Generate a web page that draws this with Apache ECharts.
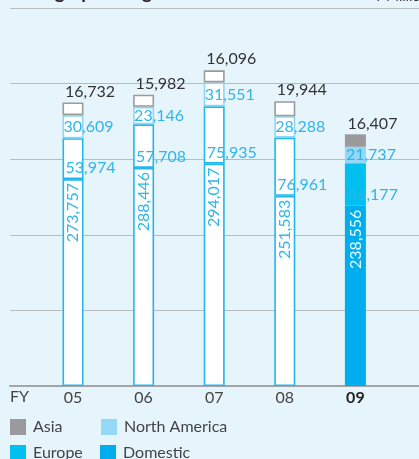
<!DOCTYPE html>
<html>
<head>
<meta charset="utf-8">
<script src="https://cdn.jsdelivr.net/npm/echarts@6/dist/echarts.min.js"></script>
<style>
  html, body { margin: 0; padding: 0; background: #e6f4fc; }
  #chart { width: 419px; height: 459px; }
</style>
</head>
<body>
<div id="chart"></div>
<script>
const years = ["05", "06", "07", "08", "09"];
const domestic = [273757, 288446, 294017, 251583, 238556];
const europe = [53974, 57708, 75935, 76961, 56177];
const northAmerica = [30609, 23146, 31551, 28288, 21737];
const asia = [16732, 15982, 16096, 19944, 16407];
const yTicks = [0, 100000, 200000, 300000, 400000, 500000];

const FONT = "Lato";
const BLUE_TEXT = "#2fb6ea";

// fill colours (used for FY09 and the legend), outline colours for earlier years
const fills = { asia: "#9a9a9c", na: "#93d8f6", europe: "#00c0f0", domestic: "#00aeef" };
const borders = { asia: "#9b9b9b", na: "#8fd6f3", europe: "#1fb9ed", domestic: "#27b5ec" };

function items(values, key, labelColorLast) {
  return values.map((v, i) => {
    if (i === values.length - 1) {
      return { value: v, label: labelColorLast ? { color: labelColorLast } : undefined };
    }
    return {
      value: v,
      itemStyle: { color: "#ffffff", borderColor: borders[key], borderWidth: 1.6 }
    };
  });
}

const fmt = (p) => p.value.toLocaleString("en-US");

const chart = echarts.init(document.getElementById("chart"));

const option = {
  backgroundColor: "#e6f4fc",
  animation: false,
  textStyle: { fontFamily: FONT },
  grid: [
    { left: 10, right: 0, top: 8, bottom: 73 },
    { left: 37.7, right: 28.3, top: 8, bottom: 73 }
  ],
  xAxis: [
    {
      gridIndex: 0, type: "value", min: 0, max: 1,
      axisLine: { show: true, lineStyle: { color: "#a3a5a8", width: 2 } },
      axisTick: { show: false }, axisLabel: { show: false }, splitLine: { show: false }
    },
    {
      gridIndex: 1, type: "category", data: years,
      axisLine: { show: false }, axisTick: { show: false },
      axisLabel: {
        margin: 4, fontSize: 16, fontFamily: FONT, color: "#444",
        formatter: (v) => (v === "09" ? "{b|" + v + "}" : v),
        rich: { b: { fontSize: 16, fontWeight: "bold", color: "#222", fontFamily: FONT } }
      }
    }
  ],
  yAxis: [
    {
      gridIndex: 0, type: "value", min: yTicks[0], max: yTicks[yTicks.length - 1], interval: 100000,
      axisLine: { show: false }, axisTick: { show: false }, axisLabel: { show: false },
      splitLine: { lineStyle: { color: "#b8bbbe", width: 1 } }
    },
    {
      gridIndex: 1, type: "value", min: yTicks[0], max: yTicks[yTicks.length - 1], show: false
    }
  ],
  legend: [
    { data: ["Asia"], left: 10, top: 419 },
    { data: ["North America"], left: 101, top: 419 },
    { data: ["Europe"], left: 10, top: 445 },
    { data: ["Domestic"], left: 100, top: 445 }
  ].map((l) => Object.assign({
    padding: 0, itemWidth: 16, itemHeight: 16, icon: "rect", selectedMode: false,
    textStyle: { fontSize: 16, color: "#444", fontFamily: FONT, padding: [0, 0, 0, 2] }
  }, l)),
  graphic: [
    { type: "text", left: 10, top: 389, style: { text: "FY", font: "16px " + FONT, fill: "#444" } },
    { type: "text", x: 20, y: 2, style: { text: "Geographic Segment", font: "bold 19px " + FONT, fill: "#222", verticalAlign: "bottom" } },
    { type: "text", x: 428, y: 3, style: { text: "¥ Million", font: "14px " + FONT, fill: "#333", align: "right", verticalAlign: "bottom" } }
  ],
  series: [
    {
      name: "Domestic", type: "bar", stack: "total", xAxisIndex: 1, yAxisIndex: 1,
      barWidth: 21, itemStyle: { color: fills.domestic },
      label: {
        show: true, position: "insideTop", rotate: 90, align: "right", verticalAlign: "middle",
        distance: 4, fontSize: 16, fontFamily: FONT, color: BLUE_TEXT, formatter: fmt
      },
      data: items(domestic, "domestic", "#e8f8fe")
    },
    {
      name: "Europe", type: "bar", stack: "total", xAxisIndex: 1, yAxisIndex: 1,
      itemStyle: { color: fills.europe },
      label: {
        show: true, position: "insideBottomLeft", distance: 3, fontSize: 16, fontFamily: FONT,
        color: BLUE_TEXT, formatter: fmt
      },
      data: items(europe, "europe", "#30b4e6")
    },
    {
      name: "North America", type: "bar", stack: "total", xAxisIndex: 1, yAxisIndex: 1,
      itemStyle: { color: fills.na },
      label: {
        show: true, position: "insideLeft", distance: 1, fontSize: 16, fontFamily: FONT,
        color: BLUE_TEXT, formatter: fmt
      },
      data: items(northAmerica, "na", "#2cb3e8")
    },
    {
      name: "Asia", type: "bar", stack: "total", xAxisIndex: 1, yAxisIndex: 1,
      itemStyle: { color: fills.asia },
      label: {
        show: true, position: "top", align: "left", offset: [-8, 0], distance: 3,
        fontSize: 16, fontFamily: FONT, color: "#333", formatter: fmt
      },
      data: items(asia, "asia")
    }
  ]
};

chart.setOption(option);
</script>
</body>
</html>
